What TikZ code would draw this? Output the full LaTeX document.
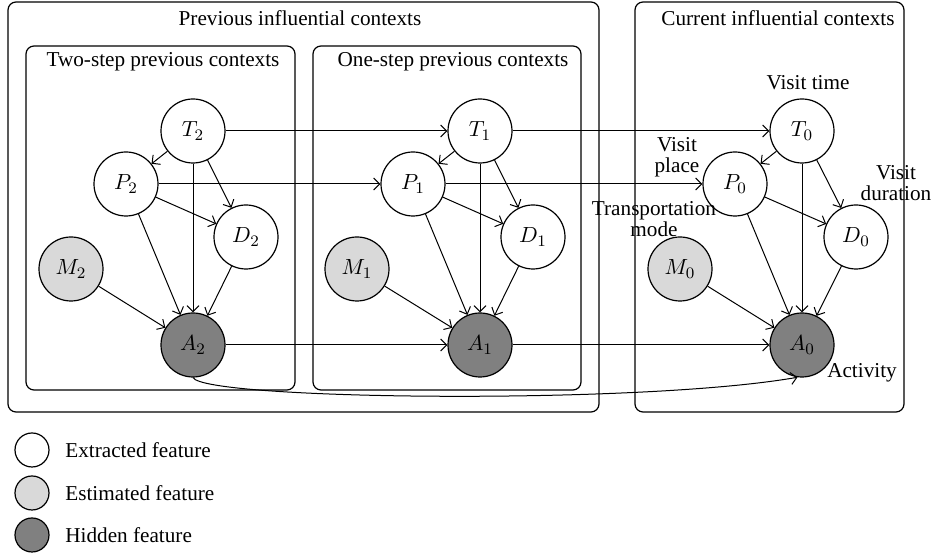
\documentclass[tikz,border=0pt]{standalone}
\usepackage{fontspec}
\setmainfont{Liberation Serif}
\usetikzlibrary{arrows.meta}
\begin{document}
\begin{tikzpicture}[x=0.5pt,y=-0.5pt,
  var/.style={circle,draw,line width=0.6pt,minimum size=32pt,inner sep=0pt,font=\fontsize{11}{11}\selectfont},
  ext/.style={var,fill=white},
  est/.style={var,fill=gray!30},
  hid/.style={var,fill=gray},
  legvar/.style={circle,draw,line width=0.6pt,minimum size=17pt,inner sep=0pt},
  box/.style={draw,rounded corners=4pt,line width=0.6pt},
  lbl/.style={font=\fontsize{10.6}{10.6}\selectfont,align=center,inner sep=0pt},
  edge/.style={line width=0.5pt,-{Straight Barb[length=3pt,width=6pt]}}
]
\useasboundingbox (0,0) rectangle (934,560);

% context frames
\draw[box] (8,2) rectangle (599,412);
\node[lbl] (tprev) at (300,18) {Previous influential contexts};
\draw[box] (26,46) rectangle (295,390);
\node[lbl] (ttwo) at (163,62) {Two-step previous contexts};
\draw[box] (313,46) rectangle (581,390);
\node[lbl] (tone) at (453,62) {One-step previous contexts};
\draw[box] (635,2) rectangle (904,412);
\node[lbl] (tcur) at (778,18) {Current influential contexts};

% two-step previous slice
\node[ext] (T2) at (193,131) {$T_2$};
\node[ext] (P2) at (126,184) {$P_2$};
\node[ext] (D2) at (246,237) {$D_2$};
\node[est] (M2) at (71,269)  {$M_2$};
\node[hid] (A2) at (193,345) {$A_2$};

% one-step previous slice
\node[ext] (T1) at (480,131) {$T_1$};
\node[ext] (P1) at (413,184) {$P_1$};
\node[ext] (D1) at (533,237) {$D_1$};
\node[est] (M1) at (357,269) {$M_1$};
\node[hid] (A1) at (480,345) {$A_1$};

% current slice
\node[ext] (T0) at (802,131) {$T_0$};
\node[ext] (P0) at (735,184) {$P_0$};
\node[ext] (D0) at (856,237) {$D_0$};
\node[est] (M0) at (680,269) {$M_0$};
\node[hid] (A0) at (802,345) {$A_0$};

% annotations of the current slice
\node[lbl] (lT) at (808,83)  {Visit time};
\node[lbl] (lP) at (677,157) {Visit\\place};
\node[lbl] (lD) at (896,183) {Visit\\duration};
\node[lbl] (lM) at (654,219) {Transportation\\mode};
\node[lbl] (lA) at (862,373) {Activity};

% dependencies inside each slice
\foreach \i in {2,1,0}{
  \draw[edge] (T\i) -- (P\i);
  \draw[edge] (T\i) -- (D\i);
  \draw[edge] (T\i) -- (A\i);
  \draw[edge] (P\i) -- (D\i);
  \draw[edge] (P\i) -- (A\i);
  \draw[edge] (D\i) -- (A\i);
  \draw[edge] (M\i) -- (A\i);
}

% dependencies between slices
\draw[edge] (T2) -- (T1);
\draw[edge] (T1) -- (T0);
\draw[edge] (P2) -- (P1);
\draw[edge] (P1) -- (P0);
\draw[edge] (A2) -- (A1);
\draw[edge] (A1) -- (A0);
\draw[edge] (A2.south) .. controls (205,400) and (640,405) .. (A0.-98);

% legend
\node[legvar,fill=white]   (L1) at (32,450) {};
\node[legvar,fill=gray!30] (L2) at (32,493) {};
\node[legvar,fill=gray]    (L3) at (32,535) {};
\node[lbl,anchor=west] (t1) at (65,450) {Extracted feature};
\node[lbl,anchor=west] (t2) at (65,493) {Estimated feature};
\node[lbl,anchor=west] (t3) at (65,535) {Hidden feature};
\end{tikzpicture}
\end{document}
